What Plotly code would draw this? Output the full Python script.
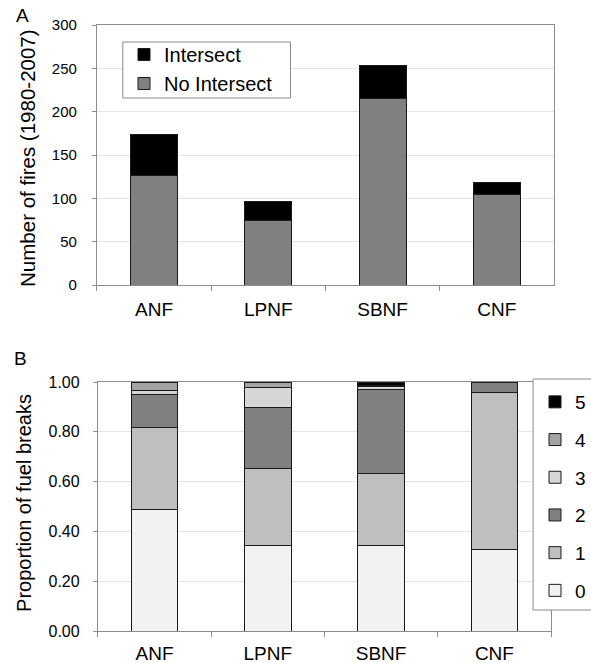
import plotly.graph_objects as go

W, H = 591, 663

forests = ["ANF", "LPNF", "SBNF", "CNF"]

# Panel A: number of fires (1980-2007)
no_intersect = [126, 74, 215, 105]
intersect = [48, 22, 38, 13]

# Panel B: proportion of fuel breaks by class
classes = ["0", "1", "2", "3", "4", "5"]
prop_0 = [0.489, 0.343, 0.343, 0.328]
prop_1 = [0.328, 0.309, 0.289, 0.631]
prop_2 = [0.131, 0.246, 0.339, 0.041]
prop_3 = [0.016, 0.079, 0.010, 0.0]
prop_4 = [0.036, 0.023, 0.004, 0.0]
prop_5 = [0.0, 0.0, 0.015, 0.0]
props = [prop_0, prop_1, prop_2, prop_3, prop_4, prop_5]
class_colors = ["#f2f2f2", "#bfbfbf", "#808080", "#d6d6d6", "#a3a3a3", "#000000"]

FONT = "Liberation Sans, Arial, sans-serif"
AXC = "#8c8c8c"
GRIDC = "#e4e4e4"
OUTLINE = dict(color="#1a1a1a", width=1)

fig = go.Figure()

fig.add_bar(x=forests, y=no_intersect, name="No Intersect",
            marker=dict(color="#808080", line=OUTLINE),
            xaxis="x", yaxis="y", legend="legend")
fig.add_bar(x=forests, y=intersect, name="Intersect",
            marker=dict(color="#000000", line=OUTLINE),
            xaxis="x", yaxis="y", legend="legend")

for i, (cls, vals, col) in enumerate(zip(classes, props, class_colors)):
    fig.add_bar(x=forests, y=vals, name=cls, legendgroup=cls,
                legendrank=100 - i,
                marker=dict(color=col, line=OUTLINE),
                xaxis="x2", yaxis="y2", legend="legend2")

def px_x(v):
    return v / W

def px_y(v):
    return 1 - v / H

xcommon = dict(showline=True, linecolor=AXC, linewidth=1, mirror=True,
               ticks="outside", tickson="boundaries", ticklen=5, tickcolor=AXC,
               tickfont=dict(size=19, color="#000"), showgrid=False,
               automargin=False, fixedrange=True)
ycommon = dict(showline=True, linecolor=AXC, linewidth=1, mirror=True,
               ticks="outside", ticklen=4, tickcolor=AXC,
               showgrid=True, gridcolor=GRIDC, gridwidth=1, zeroline=False,
               automargin=False, fixedrange=True)

# legend frames (drawn as boxes behind the legend entries)
frames = [
    dict(type="rect", xref="paper", yref="paper",
         x0=px_x(123), x1=px_x(291), y0=px_y(98), y1=px_y(42),
         line=dict(color=AXC, width=1), fillcolor="white", layer="above"),
    dict(type="rect", xref="paper", yref="paper",
         x0=px_x(534), x1=px_x(600), y0=px_y(610), y1=px_y(379),
         line=dict(color=AXC, width=1), fillcolor="white", layer="above"),
]

fig.update_layout(
    width=W, height=H,
    margin=dict(l=0, r=0, t=0, b=0),
    paper_bgcolor="white", plot_bgcolor="white",
    font=dict(family=FONT, color="#000"),
    barmode="stack", bargap=0.59,
    xaxis=dict(domain=[px_x(97), px_x(555)], anchor="y",
               ticklabelstandoff=7, **xcommon),
    yaxis=dict(domain=[px_y(285), px_y(25)], anchor="x", range=[0, 300], dtick=50,
               tickfont=dict(size=15, color="#000"), ticklabelstandoff=12, **ycommon),
    xaxis2=dict(domain=[px_x(98), px_x(552)], anchor="y2",
                ticklabelstandoff=5, **xcommon),
    yaxis2=dict(domain=[px_y(631), px_y(382)], anchor="x2", range=[0, 1], dtick=0.2,
                tickformat=".2f", tickfont=dict(size=16, color="#000"),
                ticklabelstandoff=10, **ycommon),
    legend=dict(x=px_x(124), y=px_y(35), xanchor="left", yanchor="top",
                borderwidth=0, bgcolor="rgba(0,0,0,0)",
                font=dict(size=20, color="#000"), traceorder="reversed"),
    legend2=dict(x=px_x(536), y=px_y(383), xanchor="left", yanchor="top",
                 borderwidth=0, bgcolor="rgba(0,0,0,0)",
                 font=dict(size=19, color="#000"), traceorder="grouped",
                 tracegroupgap=10),
    shapes=frames,
    annotations=[
        dict(text="A", x=px_x(23), y=px_y(15), xref="paper", yref="paper",
             xanchor="center", yanchor="middle",
             showarrow=False, font=dict(size=19)),
        dict(text="B", x=px_x(21), y=px_y(358), xref="paper", yref="paper",
             xanchor="center", yanchor="middle",
             showarrow=False, font=dict(size=19)),
        dict(text="Number of fires (1980-2007)", x=px_x(27), y=px_y(158),
             xref="paper", yref="paper", showarrow=False, textangle=-90,
             xanchor="center", yanchor="middle", font=dict(size=20.5)),
        dict(text="Proportion of fuel breaks", x=px_x(24), y=px_y(503),
             xref="paper", yref="paper", showarrow=False, textangle=-90,
             xanchor="center", yanchor="middle", font=dict(size=20)),
    ],
)

fig.write_html("out.html",
               config={"displayModeBar": False},
               post_script="document.body.style.margin='0';"
                           "document.body.style.overflow='hidden';")
